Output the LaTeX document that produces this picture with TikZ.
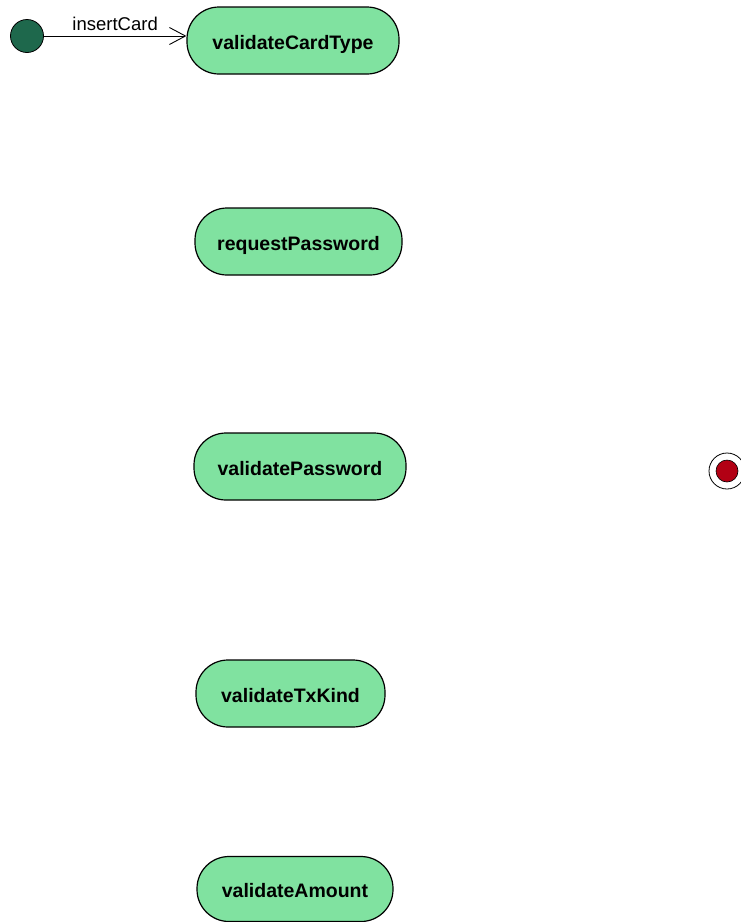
\documentclass[tikz,border=0pt]{standalone}
\usepackage{fontspec}
\setmainfont{Liberation Sans}
\usetikzlibrary{arrows.meta}
\definecolor{stfill}{RGB}{128,226,160}
\definecolor{initc}{RGB}{30,104,76}
\definecolor{finc}{RGB}{178,0,20}
\begin{document}
\begin{tikzpicture}[x=1pt,y=-1pt,
  state/.style={draw=black, line width=1.2pt, fill=stfill, rounded corners=32pt,
    minimum height=67pt, inner sep=0pt, text height=19pt, text depth=2pt, font=\bfseries\fontsize{19.5}{22}\selectfont},
  edge/.style={draw=black, line width=0.8pt, -{Straight Barb[length=16pt,width=17pt,line width=0.9pt]}}]
\useasboundingbox (0,0) rectangle (741,922);
\node[circle, fill=initc, draw=black, line width=0.8pt, minimum size=33pt, inner sep=0pt] (init) at (27,36) {};
\node[state, minimum width=212pt] (vct) at (293,40.5) {validateCardType};
\node[state, minimum width=207pt] (rp) at (298.5,241.5) {requestPassword};
\node[state, minimum width=212pt] (vp) at (300,466.5) {validatePassword};
\node[state, minimum width=189pt] (vtk) at (290.5,693.5) {validateTxKind};
\node[state, minimum width=196pt, minimum height=65pt] (va) at (295,889) {validateAmount};
\node[circle, draw=black, line width=0.8pt, fill=white, minimum size=36pt, inner sep=0pt] (fin) at (727,471) {};
\node[circle, draw=black, line width=0.6pt, fill=finc, minimum size=22pt, inner sep=0pt] (finin) at (fin.center) {};
\draw[edge] (init.east) -- node[above=2pt, font=\fontsize{18.5}{20}\selectfont] {insertCard} (vct.west |- init.east);
\end{tikzpicture}
\end{document}
